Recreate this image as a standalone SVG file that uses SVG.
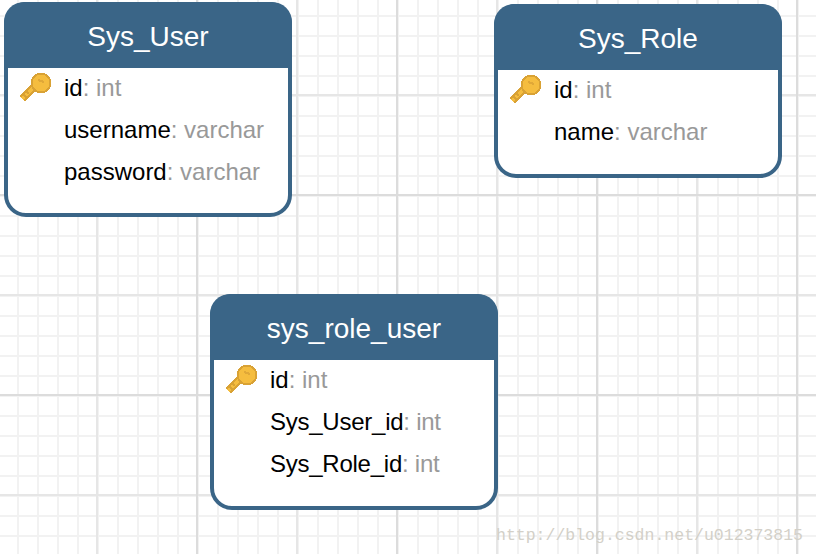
<svg xmlns="http://www.w3.org/2000/svg" width="816" height="554" viewBox="0 0 816 554">
<defs>
<pattern id="minor" x="-3" y="-5" width="20" height="20" patternUnits="userSpaceOnUse"><path d="M1 0V20M0 1H20" fill="none" stroke="#f2f2f2" stroke-width="2"/></pattern>
<g id="key" shape-rendering="crispEdges">
<path d="M1 27 L15 13" stroke="#d9a235" stroke-width="8" fill="none"/>
<path d="M1 27 L15 13" stroke="#f5bd3f" stroke-width="4" fill="none"/>
<path d="M3 23 L7 27 M6 20 L8 22" stroke="#d9a235" stroke-width="2" fill="none"/>
<circle cx="20" cy="11" r="9.5" fill="#f5bd3f" stroke="#d9a235" stroke-width="2"/>
<path d="M17 8 L23 10" stroke="#e0a838" stroke-width="2" fill="none"/>
</g>
</defs>
<style>
.box{fill:#fff;stroke:#3a6587;stroke-width:4}
.head{fill:#3a6587}
.title{font:28px "Liberation Sans",Arial,sans-serif;fill:#fff;text-anchor:middle}
.row{font:24px "Liberation Sans",Arial,sans-serif;fill:#000}
.row tspan{fill:#999}
.tight{letter-spacing:-0.25px}
.maj{fill:none;stroke:#e6e6e6;stroke-width:2}
.maj2{fill:none;stroke:#dcdcdc;stroke-width:2}
</style>
<rect width="816" height="554" fill="#fff"/>
<rect width="816" height="554" fill="url(#minor)"/>
<path class="maj" d="M97 0V554M297 0V554M497 0V554M697 0V554M0 95H816M0 295H816M0 495H816"/>
<path class="maj2" d="M197 0V554M397 0V554M597 0V554M797 0V554M0 195H816M0 395H816"/>
<g id="connectors"/>
<g id="sys_user">
<rect class="box" x="6" y="4" width="284" height="211" rx="20"/>
<path class="head" d="M4 68V22A20 20 0 0 1 24 2H272A20 20 0 0 1 292 22V68Z"/>
<text class="title" x="148" y="46">Sys_User</text>
<use href="#key" x="21" y="72"/>
<text class="row" x="64" y="96">id<tspan>: int</tspan></text>
<text class="row" x="64" y="138">username<tspan>: varchar</tspan></text>
<text class="row" x="64" y="180">password<tspan>: varchar</tspan></text>
</g>
<g id="sys_role">
<rect class="box" x="496" y="6" width="284" height="170" rx="20"/>
<path class="head" d="M494 70V24A20 20 0 0 1 514 4H762A20 20 0 0 1 782 24V70Z"/>
<text class="title" x="638" y="48">Sys_Role</text>
<use href="#key" x="511" y="74"/>
<text class="row" x="554" y="98">id<tspan>: int</tspan></text>
<text class="row" x="554" y="140">name<tspan>: varchar</tspan></text>
</g>
<g id="sys_role_user">
<rect class="box" x="212" y="296" width="284" height="212" rx="20"/>
<path class="head" d="M210 360V314A20 20 0 0 1 230 294H478A20 20 0 0 1 498 314V360Z"/>
<text class="title" x="354" y="338">sys_role_user</text>
<use href="#key" x="227" y="364"/>
<text class="row" x="270" y="388">id<tspan>: int</tspan></text>
<text class="row tight" x="270" y="430">Sys_User_id<tspan>: int</tspan></text>
<text class="row tight" x="270" y="472">Sys_Role_id<tspan>: int</tspan></text>
</g>
<text x="496" y="540" font-family="Liberation Mono, monospace" font-size="16.5" fill="#d3d0c8">http://blog.csdn.net/u012373815</text>
</svg>
